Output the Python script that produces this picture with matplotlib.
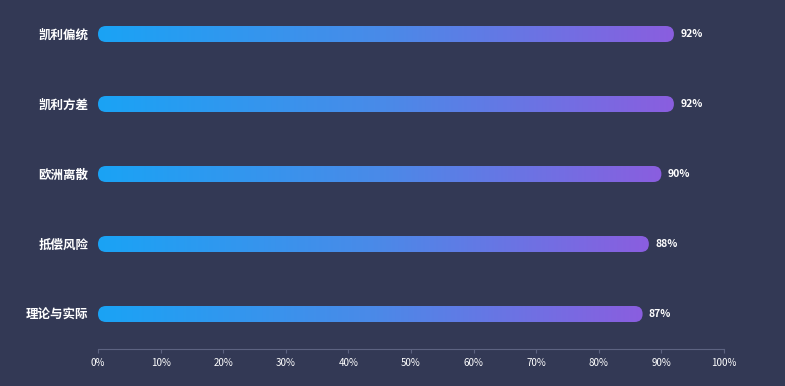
import numpy as np
import matplotlib
matplotlib.use("Agg")
import matplotlib.pyplot as plt
from matplotlib.patches import FancyBboxPatch
from matplotlib.colors import LinearSegmentedColormap

plt.rcParams['font.family'] = ['Noto Sans CJK SC', 'DejaVu Sans']

categories = ['理论与实际', '抵偿风险', '欧洲离散', '凯利方差', '凯利偏统']
values = [87, 88, 90, 92, 92]
xticks = [0, 10, 20, 30, 40, 50, 60, 70, 80, 90, 100]
xticklabels = [f'{t}%' for t in xticks]

BG = '#333955'
fig = plt.figure(figsize=(7.85, 3.86), dpi=100, facecolor=BG)
ax = fig.add_axes([98/785, 37/386, 626/785, 350/386])
ax.set_facecolor(BG)
ax.set_xlim(0, 100)
ax.set_ylim(-0.5, len(categories) - 0.5)

cmap = LinearSegmentedColormap.from_list('g', ['#1aa3f5', '#4a8ae8', '#8a5edf'])
grad = np.linspace(0, 1, 256).reshape(1, -1)

fig.canvas.draw()
p0 = ax.transData.transform((0, 0))
p1 = ax.transData.transform((1, 1))
px_per_x = p1[0] - p0[0]
px_per_y = p1[1] - p0[1]
bar_px = 16
h = bar_px / px_per_y
r_px = bar_px / 2
rx = r_px / px_per_x
aspect = (r_px / px_per_y) / rx

for i, v in enumerate(values):
    patch = FancyBboxPatch((0, i - h/2), v, h,
                           boxstyle=f"round,pad=0,rounding_size={rx}",
                           mutation_aspect=aspect,
                           facecolor='none', edgecolor='none')
    ax.add_patch(patch)
    im = ax.imshow(grad, cmap=cmap, aspect='auto',
                   extent=[0, v, i - h/2, i + h/2], zorder=2,
                   interpolation='bilinear')
    im.set_clip_path(patch)
    ax.annotate(f'{v}%', xy=(v, i), xytext=(4.5, 0), textcoords='offset points',
                va='center', ha='left', color='white', fontsize=7.5,
                fontweight='bold')

ax.set_xlim(0, 100)
ax.set_ylim(-0.5, len(categories) - 0.5)
ax.set_yticks(range(len(categories)))
ax.set_yticklabels(categories, color='white', fontsize=9, fontweight='bold')
ax.tick_params(axis='y', length=0, pad=7)
ax.set_xticks(xticks)
ax.set_xticklabels(xticklabels, color='white', fontsize=7)
ax.tick_params(axis='x', length=3, color='#5d6381', pad=3.5)
for s in ['top', 'right', 'left']:
    ax.spines[s].set_visible(False)
ax.spines['bottom'].set_color('#5d6381')

fig.savefig('out.png', dpi=100, facecolor=BG)
